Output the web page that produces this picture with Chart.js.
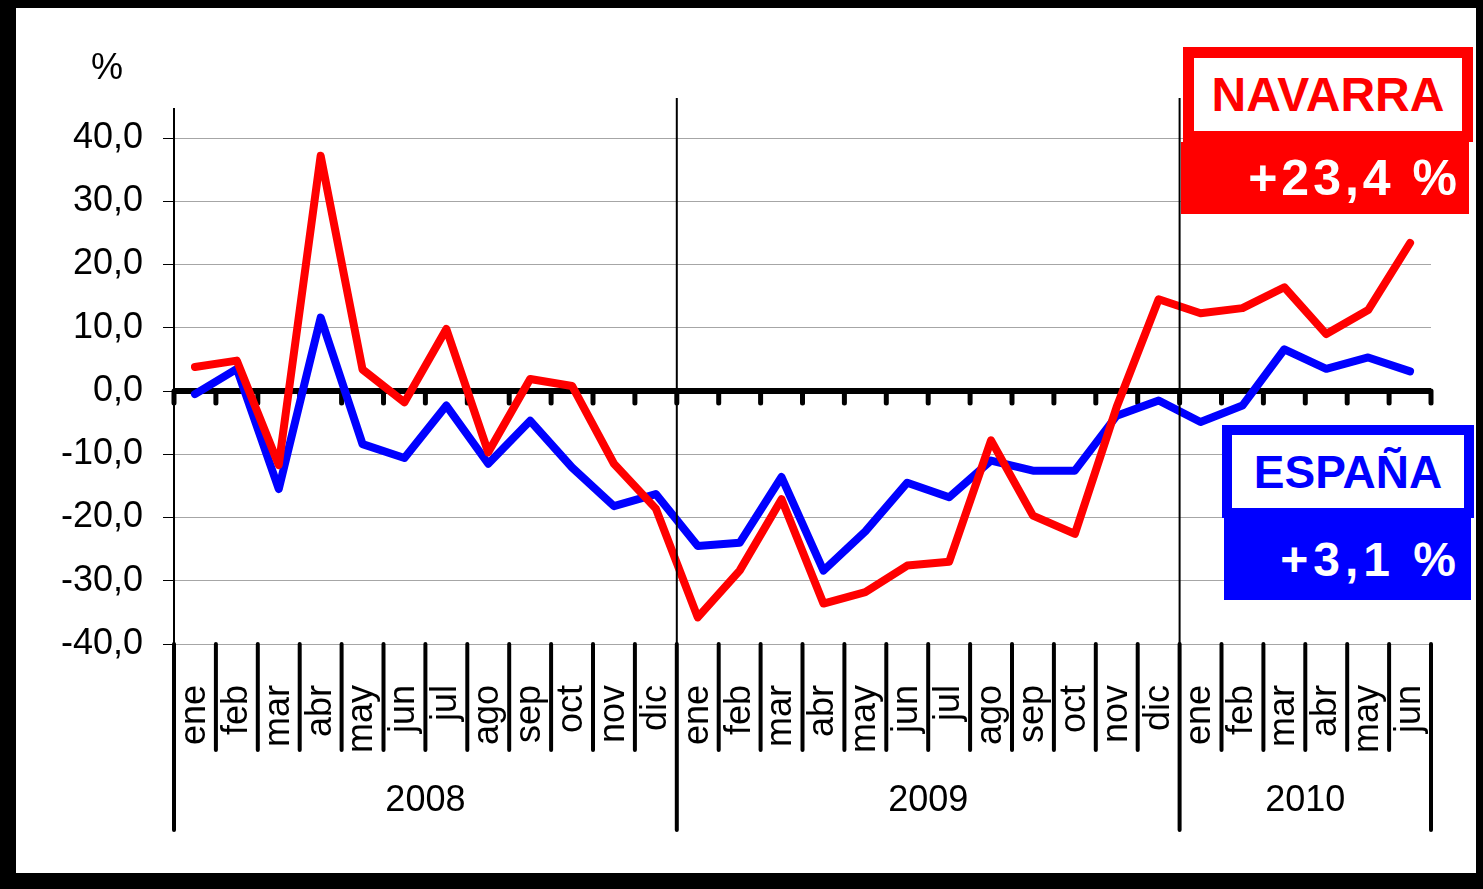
<!DOCTYPE html>
<html>
<head>
<meta charset="utf-8">
<script src="https://cdn.jsdelivr.net/npm/chart.js@4.4.0/dist/chart.umd.min.js"></script>
<style>
  html, body { margin: 0; padding: 0; background: #000; }
  body { width: 1483px; height: 889px; position: relative; overflow: hidden; font-family: "Liberation Sans", Arial, sans-serif; }
  #frame { position: absolute; left: 16px; top: 8px; width: 1460px; height: 865px; background: #fff; }
  #chart { position: absolute; left: 0; top: 0; }
  .box { position: absolute; box-sizing: border-box; display: flex; align-items: center; font-weight: bold; white-space: nowrap; }
  .name { justify-content: center; background: #fff; }
  .value { justify-content: flex-end; color: #fff; }
</style>
</head>
<body>
<div id="frame"><canvas id="chart" width="1460" height="865"></canvas></div>

<div class="box name" style="left:1183px; top:47px; width:290px; height:95px; border:11px solid #ff0000; color:#ff0000; font-size:48px;">NAVARRA</div>
<div class="box value" style="left:1181px; top:142px; width:288px; height:72px; background:#ff0000; font-size:50px; letter-spacing:4px; padding-right:8px;">+23,4 %</div>

<div class="box name" style="left:1222px; top:425px; width:252px; height:93px; border:10px solid #0000ff; color:#0000ff; font-size:46px;">ESPAÑA</div>
<div class="box value" style="left:1224px; top:518px; width:247px; height:82px; background:#0000ff; font-size:48px; letter-spacing:5px; padding-right:10px;">+3,1 %</div>

<script>
// meses (eje x) y años
const months = ['ene','feb','mar','abr','may','jun','jul','ago','sep','oct','nov','dic',
                'ene','feb','mar','abr','may','jun','jul','ago','sep','oct','nov','dic',
                'ene','feb','mar','abr','may','jun'];
const years = ['2008', '2009', '2010'];
const monthsPerYear = [12, 12, 6];

// tasas de variación (%)
const navarra = [3.8, 4.8, -11.7, 37.2, 3.4, -1.8, 9.8, -9.7, 1.9, 0.8, -11.5, -18.6,
                 -35.8, -28.4, -17.1, -33.6, -31.8, -27.6, -27.0, -7.8, -19.7, -22.6, -2.5, 14.5,
                 12.3, 13.1, 16.4, 9.0, 12.8, 23.4];
const espana = [-0.5, 3.5, -15.5, 11.6, -8.4, -10.6, -2.3, -11.5, -4.7, -12.1, -18.2, -16.3,
                -24.5, -24.0, -13.6, -28.4, -22.2, -14.5, -16.8, -11.0, -12.6, -12.6, -3.9, -1.5,
                -4.9, -2.3, 6.6, 3.5, 5.3, 3.1];

const FONT = '"Liberation Sans", Arial, sans-serif';

// limites entre categorias, sacados de la escala x
function boundaries(x) {
    const step = x.getPixelForValue(1) - x.getPixelForValue(0);
    const start = x.getPixelForValue(0) - step / 2;
    const out = [];
    for (let i = 0; i <= months.length; i++) out.push(start + i * step);
    return out;
}

const decor = {
    id: 'decor',
    beforeDatasetsDraw(chart) {
        const ctx = chart.ctx;
        const x = chart.scales.x, y = chart.scales.y;
        const y0 = y.getPixelForValue(0);
        const b = boundaries(x);
        ctx.save();
        ctx.strokeStyle = '#000';
        // linea del cero
        ctx.lineWidth = 6;
        ctx.beginPath();
        ctx.moveTo(b[0], y0);
        ctx.lineTo(b[b.length - 1], y0);
        ctx.stroke();
        // marcas en el cero
        ctx.lineWidth = 5;
        ctx.lineCap = 'round';
        b.forEach(px => {
            ctx.beginPath();
            ctx.moveTo(px, y0);
            ctx.lineTo(px, y0 + 12);
            ctx.stroke();
        });
        ctx.restore();
    },
    afterDatasetsDraw(chart) {
        const ctx = chart.ctx;
        const area = chart.chartArea;
        const x = chart.scales.x;
        const b = boundaries(x);
        ctx.save();
        ctx.strokeStyle = '#000';
        ctx.fillStyle = '#000';

        // prolongacion del eje y
        ctx.lineWidth = 2;
        ctx.beginPath();
        ctx.moveTo(area.left, area.top - 30);
        ctx.lineTo(area.left, area.top);
        ctx.stroke();

        // lineas verticales entre años
        let idx = 0;
        const yearEdges = [0];
        monthsPerYear.forEach(n => { idx += n; yearEdges.push(idx); });
        yearEdges.slice(1, -1).forEach(i => {
            ctx.beginPath();
            ctx.moveTo(b[i], area.top - 40);
            ctx.lineTo(b[i], area.bottom);
            ctx.stroke();
        });

        // separadores bajo el eje
        ctx.lineWidth = 4;
        ctx.lineCap = 'round';
        b.forEach((px, i) => {
            const long = yearEdges.includes(i);
            ctx.beginPath();
            ctx.moveTo(px, area.bottom);
            ctx.lineTo(px, area.bottom + (long ? 186 : 106));
            ctx.stroke();
        });

        // años
        ctx.font = '36px ' + FONT;
        ctx.textAlign = 'center';
        ctx.textBaseline = 'middle';
        years.forEach((yr, k) => {
            const cx = (b[yearEdges[k]] + b[yearEdges[k + 1]]) / 2;
            ctx.fillText(yr, cx, area.bottom + 157);
        });

        // unidad
        ctx.fillText('%', 91, 61);
        ctx.restore();
    }
};

const chart = new Chart(document.getElementById('chart').getContext('2d'), {
    type: 'line',
    data: {
        labels: months,
        datasets: [
            {
                label: 'NAVARRA',
                data: navarra,
                borderColor: '#ff0000',
                borderWidth: 8,
                pointRadius: 0,
                tension: 0,
                borderCapStyle: 'round',
                borderJoinStyle: 'round'
            },
            {
                label: 'ESPAÑA',
                data: espana,
                borderColor: '#0000ff',
                borderWidth: 8,
                pointRadius: 0,
                tension: 0,
                borderCapStyle: 'round',
                borderJoinStyle: 'round'
            }
        ]
    },
    options: {
        responsive: false,
        animation: false,
        devicePixelRatio: 1,
        layout: { padding: { top: 130, right: 45, left: 0, bottom: 0 } },
        plugins: {
            legend: { display: false },
            tooltip: { enabled: false }
        },
        scales: {
            x: {
                offset: true,
                grid: { display: false },
                border: { display: false },
                ticks: {
                    autoSkip: false,
                    minRotation: 90,
                    maxRotation: 90,
                    padding: 33,
                    color: '#000',
                    font: { family: FONT, size: 36 }
                },
                afterFit(scale) {
                    scale.height = 229;
                    scale.paddingLeft = 0;
                    scale.paddingRight = 0;
                }
            },
            y: {
                min: -40,
                max: 40,
                ticks: {
                    stepSize: 10,
                    padding: 20,
                    color: '#000',
                    font: { family: FONT, size: 36 },
                    callback: v => v.toFixed(1).replace('.', ',')
                },
                grid: { color: '#a6a6a6', lineWidth: 1, tickLength: 11, tickColor: '#000' },
                border: { color: '#000', width: 2 },
                afterFit(scale) {
                    scale.width = 158;
                    scale.paddingTop = 0;
                    scale.paddingBottom = 0;
                }
            }
        }
    },
    plugins: [decor]
});
</script>
</body>
</html>
